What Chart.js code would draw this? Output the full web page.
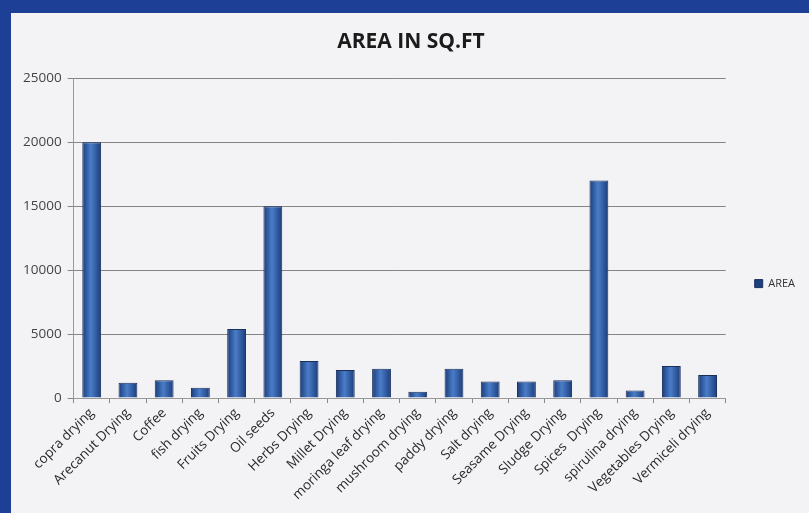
<!DOCTYPE html>
<html>
<head>
<meta charset="utf-8">
<script src="https://cdn.jsdelivr.net/npm/chart.js@4.4.1/dist/chart.umd.min.js"></script>
<style>
html,body{margin:0;padding:0}
body{width:809px;height:513px;background:#1e3f96;overflow:hidden;position:relative}
#panel{position:absolute;left:11px;top:13px;width:798px;height:500px;background:#f3f3f5}
</style>
</head>
<body>
<div id="panel"><canvas id="chart" width="798" height="500"></canvas></div>
<script>
// ================= DATA =================
const categories=["copra drying","Arecanut Drying","Coffee","fish drying","Fruits Drying","Oil seeds","Herbs Drying","Millet Drying","moringa leaf drying","mushroom drying","paddy drying","Salt drying","Seasame Drying","Sludge Drying","Spices  Drying","spirulina drying","Vegetables Drying","Vermiceli drying"]
const areaValues=[20000,1200,1400,800,5400,15000,2900,2200,2300,500,2300,1300,1300,1400,17000,600,2500,1800]
const yTicks=[0,5000,10000,15000,20000,25000]
const seriesName="AREA"
const chartTitle="AREA IN SQ.FT"

// bar fill: darker edges, lighter middle
function barFill(c){
let chart=c.chart
let xs=chart.scales && chart.scales.x
if(!xs || c.dataIndex===undefined) return "#2f5ea6"
let cx=xs.getPixelForValue(c.dataIndex)
if(!isFinite(cx)) return "#2f5ea6"
let g=chart.ctx.createLinearGradient(cx-9,0,cx+9,0)
g.addColorStop(0,"#1c3f7e")
g.addColorStop(0.45,"#4a7dc8")
g.addColorStop(1,"#1c3f7e")
return g
}

const ctx=document.getElementById("chart")

new Chart(ctx,{
type:"bar",
data:{
labels:categories,
datasets:[{
label:seriesName,
data:areaValues,
backgroundColor:barFill,
borderColor:"#1a2f5c",
borderWidth:1,
barPercentage:0.52,
categoryPercentage:1
}]
},
options:{
responsive:false,
animation:false,
layout:{padding:{left:6,right:4,top:0,bottom:8}},
plugins:{
title:{display:true,text:chartTitle,color:"#1b1b1b",font:{family:"Open Sans",size:21,weight:"bold"},padding:{top:16,bottom:24}},
legend:{
position:"right",
title:{display:true,text:" ",font:{size:1},padding:{top:24,bottom:24}},
labels:{boxWidth:8,boxHeight:8,color:"#333",font:{family:"Open Sans",size:11},padding:29}
},
tooltip:{enabled:false}
},
scales:{
x:{
grid:{display:true,drawOnChartArea:false,color:"#888",tickLength:5,offset:true},
border:{color:"#999"},
ticks:{color:"#2a2a2a",font:{family:"Open Sans",size:13.5},maxRotation:45,minRotation:45,autoSkip:false,padding:2}
},
y:{
min:0,max:25000,
afterBuildTicks:a=>{a.ticks=yTicks.map(v=>({value:v}))},
grid:{color:"#858585",lineWidth:1,tickLength:6},
border:{color:"#999"},
ticks:{color:"#444",font:{family:"Open Sans",size:13.5},padding:6,callback:v=>String(v)}
}
}
}
})
</script>
</body>
</html>
